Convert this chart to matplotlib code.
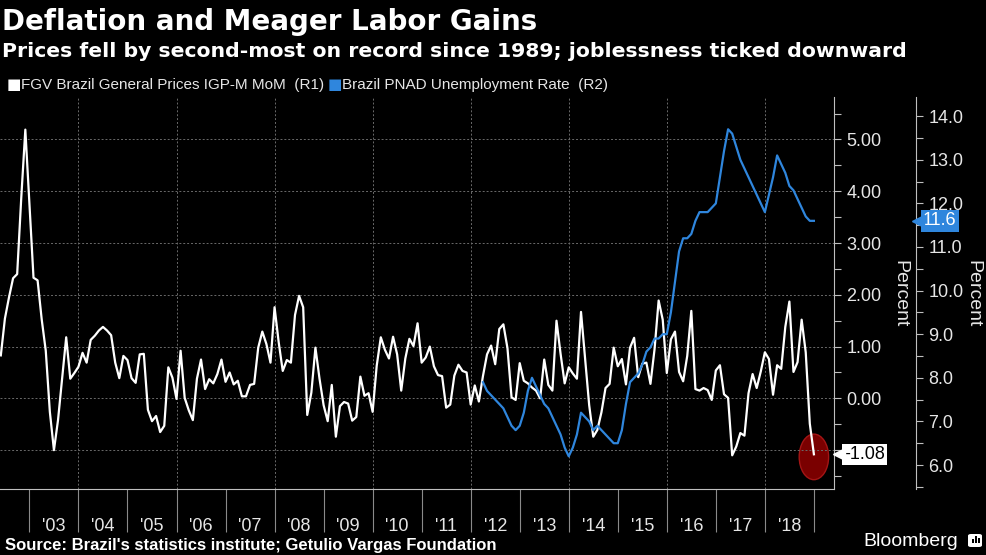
import numpy as np
import matplotlib.pyplot as plt
import matplotlib.transforms as mtransforms
from matplotlib.patches import Ellipse, FancyBboxPatch, Rectangle
from matplotlib.ticker import (MultipleLocator, FixedLocator, FixedFormatter,
                               FuncFormatter, FormatStrFormatter, NullFormatter)

# FGV IGP-M month-on-month, % (May 2002 .. Dec 2018)
igpm_start = (2002, 5)
igpm = [
    0.83, 1.54, 1.95, 2.32, 2.40, 3.87, 5.19, 3.75,
    2.33, 2.28, 1.53, 0.92, -0.26, -1.00, -0.42, 0.38, 1.18, 0.38, 0.49, 0.61,
    0.88, 0.69, 1.13, 1.21, 1.31, 1.38, 1.31, 1.22, 0.69, 0.39, 0.82, 0.74,
    0.39, 0.30, 0.85, 0.86, -0.22, -0.44, -0.34, -0.65, -0.53, 0.60, 0.40, -0.01,
    0.92, 0.01, -0.23, -0.42, 0.38, 0.75, 0.18, 0.37, 0.29, 0.47, 0.75, 0.32,
    0.50, 0.27, 0.34, 0.04, 0.04, 0.26, 0.28, 0.98, 1.29, 1.05, 0.69, 1.76,
    1.09, 0.53, 0.74, 0.69, 1.61, 1.98, 1.76, -0.32, 0.11, 0.98, 0.38, -0.13,
    -0.44, 0.26, -0.74, -0.15, -0.07, -0.10, -0.43, -0.36, 0.42, 0.05, 0.10, -0.26,
    0.63, 1.18, 0.94, 0.77, 1.19, 0.85, 0.15, 0.77, 1.15, 1.01, 1.45, 0.69,
    0.79, 1.00, 0.62, 0.45, 0.43, -0.18, -0.12, 0.44, 0.65, 0.53, 0.50, -0.12,
    0.25, -0.06, 0.43, 0.85, 1.02, 0.66, 1.34, 1.43, 0.97, 0.02, -0.03, 0.68,
    0.34, 0.29, 0.21, 0.15, 0.00, 0.75, 0.26, 0.15, 1.50, 0.86, 0.29, 0.60,
    0.48, 0.38, 1.67, 0.78, -0.13, -0.74, -0.61, -0.27, 0.20, 0.28, 0.98, 0.62,
    0.76, 0.27, 0.98, 1.17, 0.41, 0.67, 0.69, 0.28, 0.95, 1.89, 1.52, 0.49,
    1.14, 1.29, 0.51, 0.33, 0.82, 1.69, 0.18, 0.15, 0.20, 0.16, -0.03, 0.54,
    0.64, 0.08, 0.01, -1.10, -0.93, -0.67, -0.72, 0.10, 0.47, 0.20, 0.52, 0.89,
    0.76, 0.07, 0.64, 0.57, 1.38, 1.87, 0.51, 0.70, 1.52, 0.89, -0.49, -1.08,
]

# Brazil PNAD unemployment rate, % (Mar 2012 .. Dec 2018)
unemp_start = (2012, 3)
unemp = [
    7.9, 7.7, 7.6, 7.5, 7.4, 7.3, 7.1, 6.9, 6.8, 6.9,
    7.2, 7.7, 8.0, 7.8, 7.6, 7.4, 7.3, 7.1, 6.9, 6.7, 6.4, 6.2,
    6.4, 6.7, 7.2, 7.1, 7.0, 6.8, 6.9, 6.8, 6.7, 6.6, 6.5, 6.5,
    6.8, 7.4, 7.9, 8.0, 8.1, 8.3, 8.6, 8.7, 8.9, 8.9, 9.0, 9.0,
    9.5, 10.2, 10.9, 11.2, 11.2, 11.3, 11.6, 11.8, 11.8, 11.8, 11.9, 12.0,
    12.6, 13.2, 13.7, 13.6, 13.3, 13.0, 12.8, 12.6, 12.4, 12.2, 12.0, 11.8,
    12.2, 12.6, 13.1, 12.9, 12.7, 12.4, 12.3, 12.1, 11.9, 11.7, 11.6, 11.6,
]

years = list(range(2003, 2019))
year_labels = ["'%02d" % (y % 100) for y in years]
grid_years = list(range(2004, 2019, 2))


def month_pos(start, n):
    y, m = start
    return np.array([y + (m + i) / 12 for i in range(n)])


x1 = month_pos(igpm_start, len(igpm))
x2 = month_pos(unemp_start, len(unemp))

W, H = 987, 555
BG = 'black'
TXT = '#e6e6e6'
AX = '#bfbfbf'
BLUE = '#2f86dd'
SANS = ['Liberation Sans', 'DejaVu Sans']

plt.rcParams['font.family'] = SANS

fig = plt.figure(figsize=(W / 100, H / 100), dpi=100, facecolor=BG)
ax = fig.add_axes([0, 1 - 489 / H, 834 / W, (489 - 97) / H])
ax.set_facecolor(BG)
ax2 = ax.twinx()
ax.yaxis.tick_right()

ax.set_xlim(2002.40, 2019.41)
ax.set_ylim(-1.75, 5.82)
ax2.set_ylim(5.45, 14.44)

# grid
ax.yaxis.set_major_locator(MultipleLocator(1))
ax.yaxis.set_minor_locator(MultipleLocator(0.5))
ax.yaxis.set_major_formatter(FuncFormatter(lambda v, p: '%.2f' % v if v > -0.5 else ''))
ax.grid(axis='y', which='major', color='#6a6a6a', linestyle=(0, (2, 2)), linewidth=0.7)
for gy in grid_years:
    ax.axvline(gy, color='#6a6a6a', linestyle=(0, (2, 2)), linewidth=0.7, zorder=0.5)

# x axis: separators at year boundaries, labels mid-year
ax.xaxis.set_major_locator(FixedLocator(years + [2019]))
ax.xaxis.set_major_formatter(NullFormatter())
ax.xaxis.set_minor_locator(FixedLocator([y + 0.5 for y in years]))
ax.xaxis.set_minor_formatter(FixedFormatter(year_labels))
ax.tick_params(axis='x', which='major', length=31, width=0.8, color='#8a8a8a', direction='out')
ax.tick_params(axis='x', which='minor', length=0, pad=21, labelsize=13, labelcolor=TXT)

ax.tick_params(axis='y', which='both', right=True, left=False, labelright=True, labelleft=False,
               color=AX, width=0.8, length=5, pad=4, labelsize=13, labelcolor=TXT)

for s in ['top', 'left']:
    ax.spines[s].set_visible(False)
ax.spines['bottom'].set_color(AX)
ax.spines['right'].set_color(AX)
ax.spines['bottom'].set_linewidth(0.8)
ax.spines['right'].set_linewidth(0.8)

ax2.yaxis.set_major_locator(MultipleLocator(1))
ax2.yaxis.set_minor_locator(MultipleLocator(0.5))
ax2.yaxis.set_major_formatter(FormatStrFormatter('%.1f'))
ax2.spines['right'].set_position(('outward', 82 * 72 / 100))
for s in ['top', 'left', 'bottom']:
    ax2.spines[s].set_visible(False)
ax2.spines['right'].set_color(AX)
ax2.spines['right'].set_linewidth(0.8)
ax2.tick_params(axis='y', which='both', color=AX, width=0.8, length=5, pad=4,
                labelsize=13, labelcolor=TXT)

# series
ax.add_patch(Ellipse((x1[-1], -1.13), width=0.6, height=0.88, facecolor='#7a0000',
                     edgecolor='#a31515', linewidth=1, zorder=1.5))
ax.plot(x1, igpm, color='white', linewidth=1.6, zorder=3)
ax2.plot(x2, unemp, color=BLUE, linewidth=1.6, zorder=2)

# value tags
t1 = mtransforms.blended_transform_factory(ax.transAxes, ax.transData)
ax.text(1 + 10 / 834, igpm[-1], '%.2f' % igpm[-1], transform=t1, ha='left', va='center',
        fontsize=13, color='black', zorder=10, clip_on=False,
        bbox=dict(boxstyle='square,pad=0.12', facecolor='white', edgecolor='none'))
ax.plot([1 + 5 / 834], [igpm[-1]], marker='<', markersize=8, color='white', transform=t1,
        clip_on=False, zorder=10)
t2 = mtransforms.blended_transform_factory(ax2.transAxes, ax2.transData)
ax2.text(1 + 89 / 834, unemp[-1], '%.1f' % unemp[-1], transform=t2, ha='left', va='center',
         fontsize=13, color='white', zorder=10, clip_on=False,
         bbox=dict(boxstyle='square,pad=0.12', facecolor=BLUE, edgecolor='none'))
ax2.plot([1 + 84 / 834], [unemp[-1]], marker='<', markersize=8, color=BLUE, transform=t2,
         clip_on=False, zorder=10)

# axis titles
fig.text(900 / W, 1 - 294 / H, 'Percent', rotation=270, ha='center', va='center',
         fontsize=14, color=TXT)
fig.text(973 / W, 1 - 294 / H, 'Percent', rotation=270, ha='center', va='center',
         fontsize=14, color=TXT)

# titles
fig.text(2 / W, 1 - 30.5 / H, 'Deflation and Meager Labor Gains', ha='left', va='baseline',
         fontsize=20, fontweight='bold', color='white', family='DejaVu Sans')
fig.text(2 / W, 1 - 57 / H,
         'Prices fell by second-most on record since 1989; joblessness ticked downward',
         ha='left', va='baseline', fontsize=14.7, fontweight='bold', color='white',
         family='DejaVu Sans')

# legend
fig.text(7 / W, 1 - 89 / H, '\u25a0', ha='left', va='baseline', fontsize=11, color='white',
         family='DejaVu Sans')
fig.text(21 / W, 1 - 89 / H, 'FGV Brazil General Prices IGP-M MoM  (R1)', ha='left',
         va='baseline', fontsize=11, color=TXT)
fig.text(328 / W, 1 - 89 / H, '\u25a0', ha='left', va='baseline', fontsize=11, color=BLUE,
         family='DejaVu Sans')
fig.text(342 / W, 1 - 89 / H, 'Brazil PNAD Unemployment Rate  (R2)', ha='left',
         va='baseline', fontsize=11, color=TXT)

# footer
fig.text(5 / W, 1 - 550 / H, "Source: Brazil's statistics institute; Getulio Vargas Foundation",
         ha='left', va='baseline', fontsize=12, fontweight='bold', color='white')
fig.text(958 / W, 1 - 546 / H, 'Bloomberg', ha='right', va='baseline', fontsize=14,
         color='white')
fig.patches.append(FancyBboxPatch((968 / W, 1 - 547 / H), 14 / W, 13 / H,
                                  boxstyle='round,pad=0,rounding_size=0.003',
                                  transform=fig.transFigure, facecolor='white',
                                  edgecolor='none'))
for bx, bh in [(972, 4), (975, 7), (978, 5)]:
    fig.patches.append(Rectangle((bx / W, 1 - 543 / H), 1.6 / W, bh / H,
                                 transform=fig.transFigure, facecolor='black',
                                 edgecolor='none'))

fig.savefig('out.png', dpi=100, facecolor=BG)
